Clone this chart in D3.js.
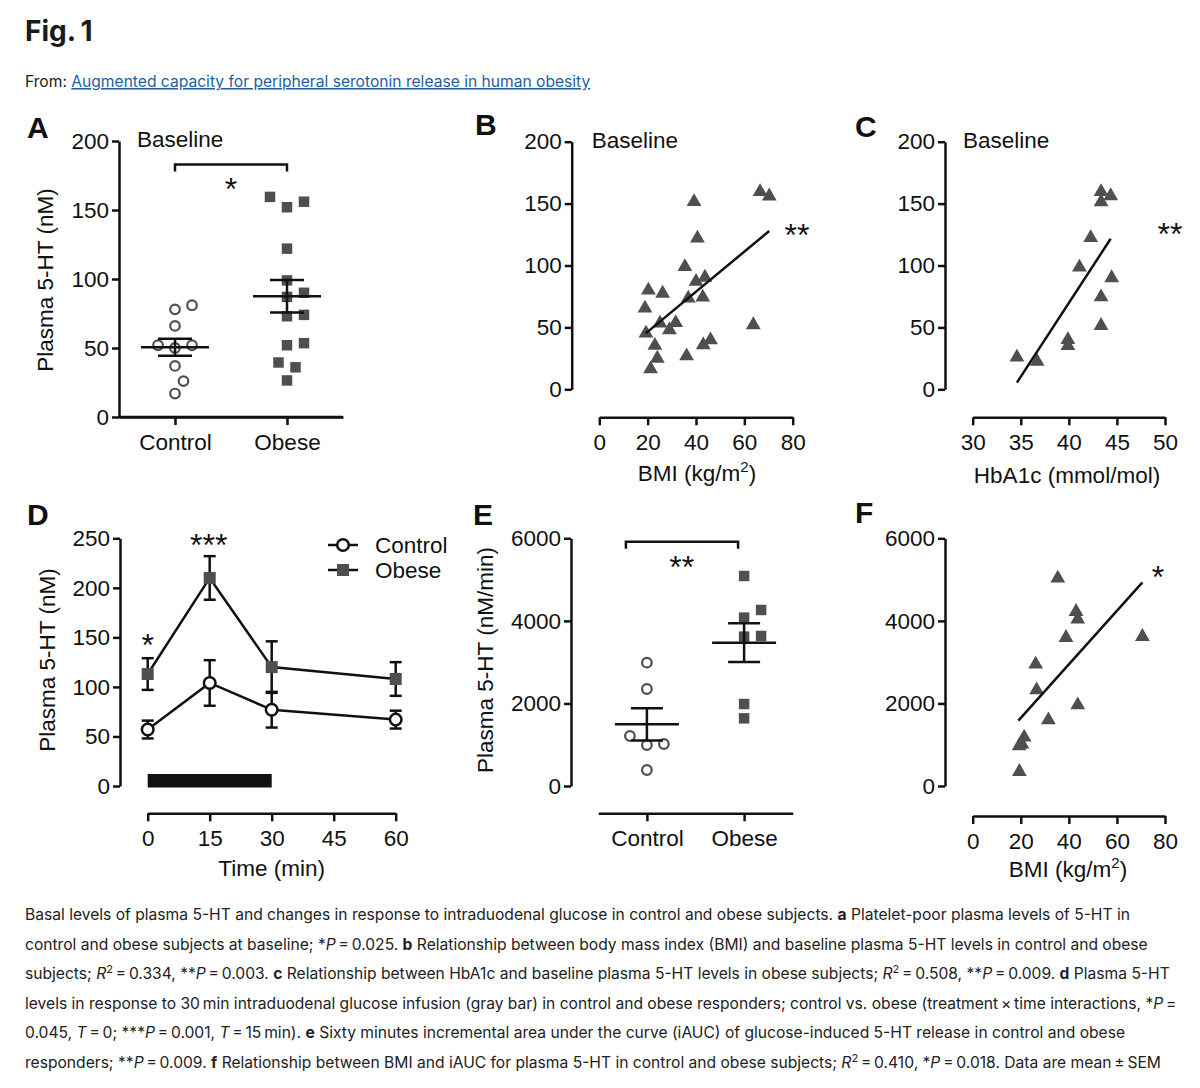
<!DOCTYPE html>
<html>
<head>
<meta charset="utf-8">
<script src="https://cdnjs.cloudflare.com/ajax/libs/d3/7.8.5/d3.min.js"></script>
<style>
body { margin: 0; background: #fff; }
svg { display: block; }
.axis path, .axis line { stroke: #111; stroke-width: 2.5; }
.axis text { font-family: "Liberation Sans", Arial, sans-serif; font-size: 22.5px; fill: #111; }
.lbl { font-family: "Liberation Sans", Arial, sans-serif; font-size: 22.5px; fill: #111; }
.letter { font-family: "Liberation Sans", Arial, sans-serif; font-size: 30px; font-weight: bold; fill: #111; }
.star { font-family: "Liberation Sans", Arial, sans-serif; font-size: 32px; fill: #111; }
.cap { font-family: Inter, "Noto Sans", sans-serif; font-size: 15.5px; fill: #222; }
</style>
</head>
<body>
<script>
//panel A: baseline plasma 5-HT per group
var groups = ["Control", "Obese"];
var aControl = [81, 78, 66, 52, 50, 52, 37, 26, 17];
var aObese = [159.5, 156, 152, 122, 99, 90, 87, 74, 73, 53.5, 52, 39.5, 36, 26.5];
var aMean = [50.5, 87.5];
var aSem = [6.2, 11.8];

//panel B: BMI vs baseline 5-HT
var bBmi = [66.5, 70.3, 39.2, 40.6, 35.4, 40, 43.7, 20.3, 26.2, 36.8, 42.8, 18.9, 63.7, 25.1, 31.6, 19.3, 29, 23, 43, 46, 24, 36.1, 21.2];
var bHt = [159.6, 156, 151.5, 122, 99, 87, 90.4, 80, 77.5, 73.5, 74.3, 65.4, 52, 53.3, 53.8, 45.2, 48, 35.3, 35.8, 39.8, 25, 26.9, 16.4];
var bFitX = [19.2, 70.3];
var bFitY = [45.2, 127.9];

//panel C: HbA1c vs baseline 5-HT (obese)
var cHba = [43.35, 44.35, 43.35, 42.27, 41.1, 44.45, 43.35, 43.35, 39.9, 39.9, 34.6, 36.7];
var cHt = [159.5, 156.2, 151.4, 122.4, 98.6, 90, 74.6, 51.4, 40, 35.1, 25.9, 22.4];
var cFitX = [34.6, 44.35];
var cFitY = [5.4, 121.6];

//panel D: time course
var times = [0, 15, 30, 60];
var dControlMean = [57, 104, 77, 67];
var dControlSem = [9, 23, 18, 9];
var dObeseMean = [113, 210, 120, 108];
var dObeseSem = [16, 22, 26, 17];
var infusion = [0, 30];

//panel E: iAUC per group
var eControl = [2988, 2350, 1211, 1017, 993, 388];
var eObese = [5087, 4264, 4078, 3634, 3618, 1986, 1639];
var eMean = [1494, 3472];
var eSem = [390, 470];

//panel F: BMI vs iAUC
var fBmi = [35.4, 43, 43.7, 38.8, 70.6, 26.2, 26.6, 43.7, 31.5, 21.4, 19.3, 20.5, 19.4];
var fAuc = [5031, 4223, 4038, 3593, 3618, 2947, 2326, 1962, 1599, 1179, 969, 1010, 347];
var fFitX = [19, 70.6];
var fFitY = [1583, 4934];

var captionLines = [
  "Basal levels of plasma 5-HT and changes in response to intraduodenal glucose in control and obese subjects. §a§ Platelet-poor plasma levels of 5-HT in",
  "control and obese subjects at baseline; *|P|\u2009=\u20090.025. §b§ Relationship between body mass index (BMI) and baseline plasma 5-HT levels in control and obese",
  "subjects; |R|^2^\u2009=\u20090.334, **|P|\u2009=\u20090.003. §c§ Relationship between HbA1c and baseline plasma 5-HT levels in obese subjects; |R|^2^\u2009=\u20090.508, **|P|\u2009=\u20090.009. §d§ Plasma 5-HT",
  "levels in response to 30\u2009min intraduodenal glucose infusion (gray bar) in control and obese responders; control vs. obese (treatment\u2009\u00d7\u2009time interactions, *|P|\u2009=",
  "0.045, |T|\u2009=\u20090; ***|P|\u2009=\u20090.001, |T|\u2009=\u200915\u2009min). §e§ Sixty minutes incremental area under the curve (iAUC) of glucose-induced 5-HT release in control and obese",
  "responders; **|P|\u2009=\u20090.009. §f§ Relationship between BMI and iAUC for plasma 5-HT in control and obese subjects; |R|^2^\u2009=\u20090.410, *|P|\u2009=\u20090.018. Data are mean\u2009\u00b1\u2009SEM"
];

var grey = "#4f4f4f";

var svg = d3.select("body").append("svg")
    .attr("width", 1200)
    .attr("height", 1088);

//header
svg.append("text")
    .attr("x", 25).attr("y", 41)
    .style("font-family", "Inter, sans-serif")
    .style("font-weight", 700)
    .style("font-size", "28px")
    .attr("fill", "#1a1a1a")
    .text("Fig.\u20091");

var from = svg.append("text")
    .attr("x", 25).attr("y", 87)
    .attr("class", "cap");
from.append("tspan").text("From: ");
from.append("tspan")
    .attr("fill", "#1f5f9e")
    .style("text-decoration", "underline")
    .text("Augmented capacity for peripheral serotonin release in human obesity");

//helpers
function styleAxis(g) {
    g.classed("axis", true);
    g.selectAll("path").attr("fill", "none");
    return g;
}

function yAxis(x0, scale, ticks) {
    svg.append("g")
        .attr("transform", `translate(${x0},0)`)
        .call(d3.axisLeft(scale).tickValues(ticks).tickFormat(d3.format("d"))
            .tickSize(7).tickSizeOuter(0).tickPadding(3))
        .call(styleAxis);
}

function xAxis(y0, scale, ticks) {
    var ax = d3.axisBottom(scale).tickSize(8).tickSizeOuter(0).tickPadding(9);
    if (ticks) ax.tickValues(ticks);
    svg.append("g")
        .attr("transform", `translate(0,${y0})`)
        .call(ax)
        .call(styleAxis);
}

function label(x, y, txt, cls, anchor) {
    return svg.append("text")
        .attr("x", x).attr("y", y)
        .attr("class", cls || "lbl")
        .attr("text-anchor", anchor || "start")
        .text(txt);
}

function yTitle(x, y, txt) {
    svg.append("text")
        .attr("class", "lbl")
        .attr("text-anchor", "middle")
        .attr("transform", `translate(${x},${y}) rotate(-90)`)
        .attr("dy", "0.35em")
        .text(txt);
}

function bmiTitle(x, y) {
    var t = svg.append("text").attr("x", x).attr("y", y)
        .attr("class", "lbl").attr("text-anchor", "middle");
    t.append("tspan").text("BMI (kg/m");
    t.append("tspan").attr("dy", -9).style("font-size", "15px").text("2");
    t.append("tspan").attr("dy", 9).text(")");
}

//simple beeswarm: returns horizontal offsets
function swarm(vals, y, step, minDist) {
    var placed = [];
    var out = new Array(vals.length);
    var order = d3.range(vals.length).sort((a, b) => vals[a] - vals[b]);
    order.forEach(function(i) {
        var py = y(vals[i]);
        for (var k = 0; k < 30; k++) {
            var off = (k % 2 ? 1 : -1) * Math.ceil(k / 2) * step;
            var hit = placed.some(p => (p.x - off) * (p.x - off) + (p.y - py) * (p.y - py) < minDist * minDist);
            if (!hit) { out[i] = off; placed.push({x: off, y: py}); break; }
        }
    });
    return out;
}

function meanSem(xc, y, m, s, half, cap) {
    var g = svg.append("g").attr("stroke", "#111").attr("stroke-width", 2.5);
    g.append("line").attr("x1", xc - half).attr("x2", xc + half).attr("y1", y(m)).attr("y2", y(m));
    g.append("line").attr("x1", xc).attr("x2", xc).attr("y1", y(m - s)).attr("y2", y(m + s));
    g.append("line").attr("x1", xc - cap).attr("x2", xc + cap).attr("y1", y(m + s)).attr("y2", y(m + s));
    g.append("line").attr("x1", xc - cap).attr("x2", xc + cap).attr("y1", y(m - s)).attr("y2", y(m - s));
}

function bracket(x1, x2, yv, drop) {
    svg.append("path")
        .attr("d", `M${x1},${yv + drop}V${yv}H${x2}V${yv + drop}`)
        .attr("fill", "none").attr("stroke", "#111").attr("stroke-width", 2.5);
}

function fitLine(x, y, fx, fy) {
    svg.append("line")
        .attr("x1", x(fx[0])).attr("y1", y(fy[0]))
        .attr("x2", x(fx[1])).attr("y2", y(fy[1]))
        .attr("stroke", "#111").attr("stroke-width", 2.5);
}

var tri = d3.symbol().type(d3.symbolTriangle).size(95);
var sq = d3.symbol().type(d3.symbolSquare).size(110);

function triangles(x, y, xs, ys) {
    svg.append("g").selectAll("path")
        .data(xs)
        .enter()
        .append("path")
        .attr("d", tri)
        .attr("transform", (d, i) => `translate(${x(d)},${y(ys[i])})`)
        .attr("fill", grey);
}

function groupDots(x, y, cat, vals, kind) {
    var off = swarm(vals, y, 8.5, 13.5);
    var g = svg.append("g");
    if (kind == "circle") {
        g.selectAll("circle").data(vals).enter().append("circle")
            .attr("cx", (d, i) => x(cat) + off[i])
            .attr("cy", d => y(d))
            .attr("r", 4.8)
            .attr("fill", "none")
            .attr("stroke", grey)
            .attr("stroke-width", 2.2);
    } else {
        g.selectAll("path").data(vals).enter().append("path")
            .attr("d", sq)
            .attr("transform", (d, i) => `translate(${x(cat) + off[i]},${y(d)})`)
            .attr("fill", grey);
    }
}

// ---------- panel A ----------
var xA = d3.scalePoint().domain(groups).range([119, 343]).padding(0.5);
var yA = d3.scaleLinear().domain([0, 200]).range([417, 141]);
groupDots(xA, yA, "Control", aControl, "circle");
groupDots(xA, yA, "Obese", aObese, "square");
groups.forEach(function(g, i) { meanSem(xA(g), yA, aMean[i], aSem[i], 34, 17); });
yAxis(119, yA, [0, 50, 100, 150, 200]);
xAxis(417, xA);
svg.append("line").attr("x1", 119).attr("x2", 343).attr("y1", 417).attr("y2", 417)
    .attr("stroke", "#111").attr("stroke-width", 2.5);
yTitle(45, 280, "Plasma 5-HT (nM)");
label(27, 138, "A", "letter");
label(137, 147, "Baseline");
bracket(xA("Control"), xA("Obese"), yA(183), 7);
label((xA("Control") + xA("Obese")) / 2, 200, "*", "star", "middle");

// ---------- panel B ----------
var xB = d3.scaleLinear().domain([0, 80]).range([599.3, 792.7]);
var yB = d3.scaleLinear().domain([0, 200]).range([389.3, 141.7]);
triangles(xB, yB, bBmi, bHt);
fitLine(xB, yB, bFitX, bFitY);
yAxis(571.7, yB, [0, 50, 100, 150, 200]);
xAxis(417.3, xB, [0, 20, 40, 60, 80]);
bmiTitle(697, 481);
label(475, 135, "B", "letter");
label(591.7, 148, "Baseline");
label(797, 246, "**", "star", "middle");

// ---------- panel C ----------
var xC = d3.scaleLinear().domain([30, 50]).range([972.7, 1165]);
var yC = d3.scaleLinear().domain([0, 200]).range([389.3, 141.7]);
triangles(xC, yC, cHba, cHt);
fitLine(xC, yC, cFitX, cFitY);
yAxis(945, yC, [0, 50, 100, 150, 200]);
xAxis(417.3, xC, [30, 35, 40, 45, 50]);
label(1067, 483, "HbA1c (mmol/mol)", "lbl", "middle");
label(855, 137, "C", "letter");
label(963, 148, "Baseline");
label(1170, 245, "**", "star", "middle");

// ---------- panel D ----------
var xD = d3.scaleLinear().domain([0, 60]).range([147.7, 395.7]);
var yD = d3.scaleLinear().domain([0, 250]).range([786, 538.3]);

svg.append("rect")
    .attr("x", xD(infusion[0]))
    .attr("width", xD(infusion[1]) - xD(infusion[0]))
    .attr("y", 774).attr("height", 13.5)
    .attr("fill", "#111");

var line = d3.line().x((d, i) => xD(times[i])).y(d => yD(d));
[dObeseMean, dControlMean].forEach(function(m) {
    svg.append("path").attr("d", line(m)).attr("fill", "none")
        .attr("stroke", "#111").attr("stroke-width", 2.5);
});
[[dObeseMean, dObeseSem], [dControlMean, dControlSem]].forEach(function(s) {
    var g = svg.append("g").attr("stroke", "#111").attr("stroke-width", 2.5);
    times.forEach(function(t, i) {
        var cx = xD(t), hi = yD(s[0][i] + s[1][i]), lo = yD(s[0][i] - s[1][i]);
        g.append("line").attr("x1", cx).attr("x2", cx).attr("y1", hi).attr("y2", lo);
        g.append("line").attr("x1", cx - 6).attr("x2", cx + 6).attr("y1", hi).attr("y2", hi);
        g.append("line").attr("x1", cx - 6).attr("x2", cx + 6).attr("y1", lo).attr("y2", lo);
    });
});
svg.append("g").selectAll("path").data(dObeseMean).enter().append("path")
    .attr("d", d3.symbol().type(d3.symbolSquare).size(144))
    .attr("transform", (d, i) => `translate(${xD(times[i])},${yD(d)})`)
    .attr("fill", grey);
svg.append("g").selectAll("circle").data(dControlMean).enter().append("circle")
    .attr("cx", (d, i) => xD(times[i]))
    .attr("cy", d => yD(d))
    .attr("r", 5.8)
    .attr("fill", "#fff")
    .attr("stroke", "#111")
    .attr("stroke-width", 2.5);

yAxis(120, yD, [0, 50, 100, 150, 200, 250]);
xAxis(813.3, xD, [0, 15, 30, 45, 60]);
yTitle(46.7, 660, "Plasma 5-HT (nM)");
label(271.7, 876, "Time (min)", "lbl", "middle");
label(27, 525, "D", "letter");
label(xD(0), 656, "*", "star", "middle");
label(xD(15) - 1, 556, "***", "star", "middle");

//legend
var leg = svg.append("g");
["Control", "Obese"].forEach(function(name, i) {
    var ly = 545 + i * 25;
    leg.append("line").attr("x1", 328).attr("x2", 358).attr("y1", ly).attr("y2", ly)
        .attr("stroke", "#111").attr("stroke-width", 2.5);
    if (i == 0) {
        leg.append("circle").attr("cx", 343).attr("cy", ly).attr("r", 5.8)
            .attr("fill", "#fff").attr("stroke", "#111").attr("stroke-width", 2.5);
    } else {
        leg.append("rect").attr("x", 337).attr("y", ly - 6).attr("width", 12).attr("height", 12).attr("fill", grey);
    }
    label(375, ly + 8, name);
});

// ---------- panel E ----------
var xE = d3.scalePoint().domain(groups).range([598.3, 792.7]).padding(0.5);
var yE = d3.scaleLinear().domain([0, 6000]).range([786, 538.3]);
groupDots(xE, yE, "Control", eControl, "circle");
groupDots(xE, yE, "Obese", eObese, "square");
groups.forEach(function(g, i) { meanSem(xE(g), yE, eMean[i], eSem[i], 32, 16); });
yAxis(571, yE, [0, 2000, 4000, 6000]);
xAxis(813.3, xE);
yTitle(485, 660, "Plasma 5-HT (nM/min)");
label(473, 525, "E", "letter");
bracket(xE("Control") - 21, xE("Obese") - 6, yE(5918), 7);
label(681.7, 578, "**", "star", "middle");

// ---------- panel F ----------
var xF = d3.scaleLinear().domain([0, 80]).range([972.7, 1165]);
var yF = d3.scaleLinear().domain([0, 6000]).range([786, 538.3]);
triangles(xF, yF, fBmi, fAuc);
fitLine(xF, yF, fFitX, fFitY);
yAxis(945, yF, [0, 2000, 4000, 6000]);
xAxis(816, xF, [0, 20, 40, 60, 80]);
bmiTitle(1068, 877);
label(855, 523, "F", "letter");
label(1158, 588, "*", "star", "middle");

// ---------- caption ----------
var capG = svg.append("g").attr("class", "cap");
captionLines.forEach(function(str, li) {
    var t = capG.append("text").attr("x", 25).attr("y", 920 + li * 29.5);
    var parts = str.split(/(§[^§]+§|\|[^|]+\||\^[^^]+\^)/).filter(p => p.length);
    var shift = 0;
    parts.forEach(function(p) {
        var ts = t.append("tspan");
        if (shift) { ts.attr("dy", shift); shift = 0; }
        if (p[0] == "§") ts.style("font-weight", 700).text(p.slice(1, -1));
        else if (p[0] == "|") ts.style("font-style", "italic").text(p.slice(1, -1));
        else if (p[0] == "^") { ts.attr("dy", -6).style("font-size", "11px").text(p.slice(1, -1)); shift = 6; }
        else ts.text(p);
    });
});
//fit caption to the width of the reference text block
var w = capG.selectAll("text").nodes()[5].getBBox().width;
var fs = 15.5 * 1137 / w;
capG.selectAll("text").style("font-size", fs + "px");
from.style("font-size", Math.min(fs, 16) + "px");
</script>
</body>
</html>
